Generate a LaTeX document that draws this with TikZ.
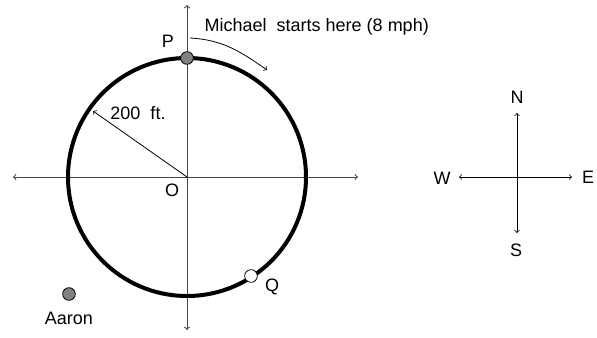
\documentclass[tikz,border=0pt]{standalone}
\usepackage{fontspec}
\setmainfont{Liberation Sans}
\definecolor{runnerGray}{RGB}{128,128,128}
\definecolor{axisGray}{RGB}{70,70,70}

\begin{document}
\begin{tikzpicture}[x=0.75pt, y=-0.75pt, font=\fontsize{13.5}{16}\selectfont, >=to]
\useasboundingbox (0,0) rectangle (597,337);
\tikzset{
  axisline/.style={->, axisGray, line width=0.75pt},
  runner/.style={circle, draw=black, line width=0.6pt, minimum size=9.5pt, inner sep=0pt}
}
%% Panel A: the circular track
\begin{scope}
  \coordinate (O) at (187,177);
  \coordinate (axisW) at (13,177);
  \coordinate (axisE) at (358,177);
  \coordinate (axisN) at (187,5);
  \coordinate (axisS) at (187,330);
  \coordinate (rimNW) at (93,111);
  \draw[axisline] (O) -- (axisW);
  \draw[axisline] (O) -- (axisE);
  \draw[axisline] (O) -- (axisN);
  \draw[axisline] (O) -- (axisS);
  \draw[line width=3pt] (O) circle[radius=119];
  \draw[->, line width=0.6pt] (O) -- (rimNW);
  \node (radiusLabel) at (138,113) {200\ \ ft.};
  \node (Olabel) at (172,190) {O};
  \node[runner, fill=runnerGray] (Pdot) at (187,58) {};
  \node (Plabel) at (168,41) {P};
  \node[runner, fill=white] (Qdot) at (251,276) {};
  \node (Qlabel) at (272,287) {Q};
  \node[runner, fill=runnerGray] (Adot) at (69,294) {};
  \node (Alabel) at (69,318) {Aaron};
  \node[anchor=west] (michaelLabel) at (200,27) {Michael\ \ starts here (8 mph)};
  \coordinate (runStart) at (190,38);
  \coordinate (runEnd) at (267,70);
  \draw[->, line width=0.6pt] (runStart) to[out=-3, in=145] (runEnd);
\end{scope}
%% Panel B: compass
\begin{scope}
  \coordinate (C) at (517,177);
  \coordinate (compN) at (517,113);
  \coordinate (compS) at (517,233);
  \coordinate (compW) at (459,177);
  \coordinate (compE) at (572,177);
  \draw[->, line width=0.6pt] (C) -- (compN);
  \draw[->, line width=0.6pt] (C) -- (compS);
  \draw[->, line width=0.6pt] (C) -- (compW);
  \draw[->, line width=0.6pt] (C) -- (compE);
  \node (Nlabel) at (517,97) {N};
  \node (Slabel) at (516,250) {S};
  \node (Wlabel) at (442,178) {W};
  \node (Elabel) at (588,177) {E};
\end{scope}
\end{tikzpicture}
\end{document}
